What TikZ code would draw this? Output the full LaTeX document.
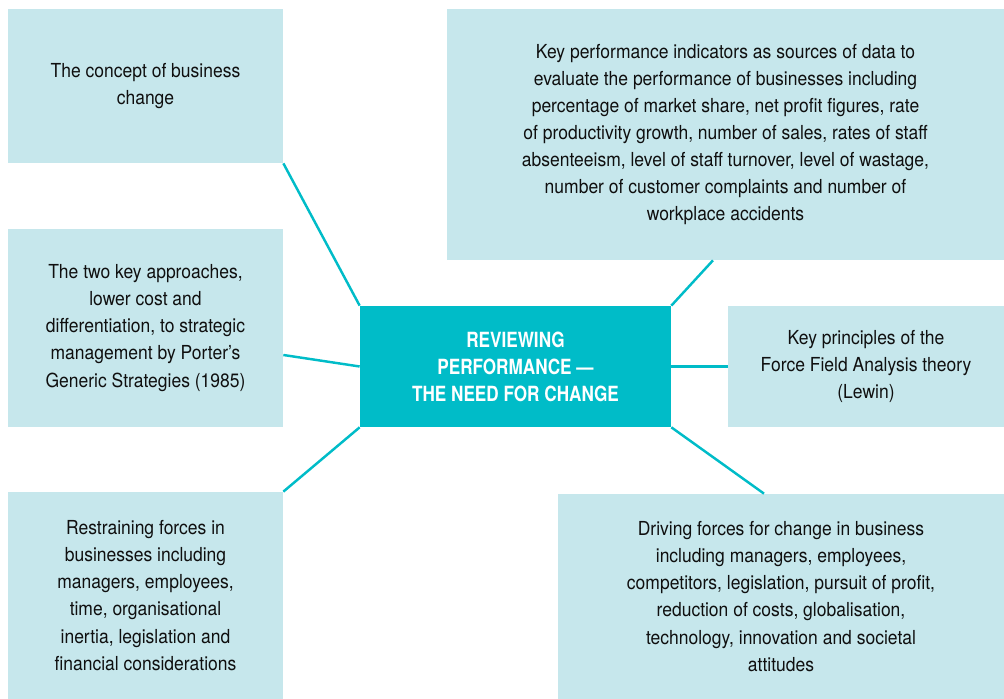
\documentclass[tikz,border=0pt]{standalone}
\usepackage{fontspec}
\setmainfont{TeX Gyre Heros}[FakeStretch=0.905]
\newfontfamily\hubfont{TeX Gyre Heros}[FakeStretch=0.82,Ligatures=TeX]
\usepackage{tikz}
\usetikzlibrary{positioning,calc}
\definecolor{hubteal}{RGB}{0,188,200}
\definecolor{boxblue}{RGB}{198,231,236}
\definecolor{textgrey}{RGB}{15,15,15}

\begin{document}
\begin{tikzpicture}[
  box/.style={fill=boxblue,inner sep=0pt,align=center,text=textgrey,
    font=\fontsize{11}{15.4}\selectfont},
  hub/.style={fill=hubteal,inner sep=0pt,align=center,text=white,
    font=\hubfont\fontsize{11.9}{15.4}\selectfont\bfseries,
    minimum width=6.22cm,minimum height=2.42cm},
  link/.style={hubteal,line width=1.4pt}]

  \useasboundingbox (0,0) rectangle (20.08,13.98);

  % Centre
  \node[hub] (hub) at (10.31,6.65) {REVIEWING\\PERFORMANCE —\\THE NEED FOR CHANGE};

  % Left column
  \node[box,minimum width=5.5cm,minimum height=3.08cm] (concept) at (2.91,12.26)
    {The concept of business\\change};
  \node[box,minimum width=5.5cm,minimum height=3.96cm] (porter) at (2.91,7.42)
    {The two key approaches,\\lower cost and\\differentiation, to strategic\\management by Porter's\\Generic Strategies (1985)};
  \node[box,minimum width=5.5cm,minimum height=4.14cm] (restrain) at (2.91,2.07)
    {Restraining forces in\\businesses including\\managers, employees,\\time, organisational\\inertia, legislation and\\financial considerations};

  % Right column
  \node[box,minimum width=11.14cm,minimum height=5.02cm] (kpi) at (14.51,11.29)
    {Key performance indicators as sources of data to\\evaluate the performance of businesses including\\percentage of market share, net profit figures, rate\\of productivity growth, number of sales, rates of staff\\absenteeism, level of staff turnover, level of wastage,\\number of customer complaints and number of\\workplace accidents};
  \node[box,minimum width=5.52cm,minimum height=2.42cm] (lewin) at (17.32,6.65)
    {Key principles of the\\Force Field Analysis theory\\(Lewin)};
  \node[box,minimum width=8.92cm,minimum height=4.1cm] (driving) at (15.62,2.05)
    {Driving forces for change in business\\including managers, employees,\\competitors, legislation, pursuit of profit,\\reduction of costs, globalisation,\\technology, innovation and societal\\attitudes};

  % Links
  \draw[link] (concept.south east) -- (hub.north west);
  \draw[link] ($(porter.east)+(0,-0.54)$) -- (hub.west);
  \draw[link] (restrain.north east) -- (hub.south west);
  \draw[link] ($(kpi.south)+(-0.25,0)$) -- (hub.north east);
  \draw[link] (hub.east) -- (lewin.west);
  \draw[link] (hub.south east) -- ($(driving.north)+(-0.34,0)$);
\end{tikzpicture}
\end{document}
